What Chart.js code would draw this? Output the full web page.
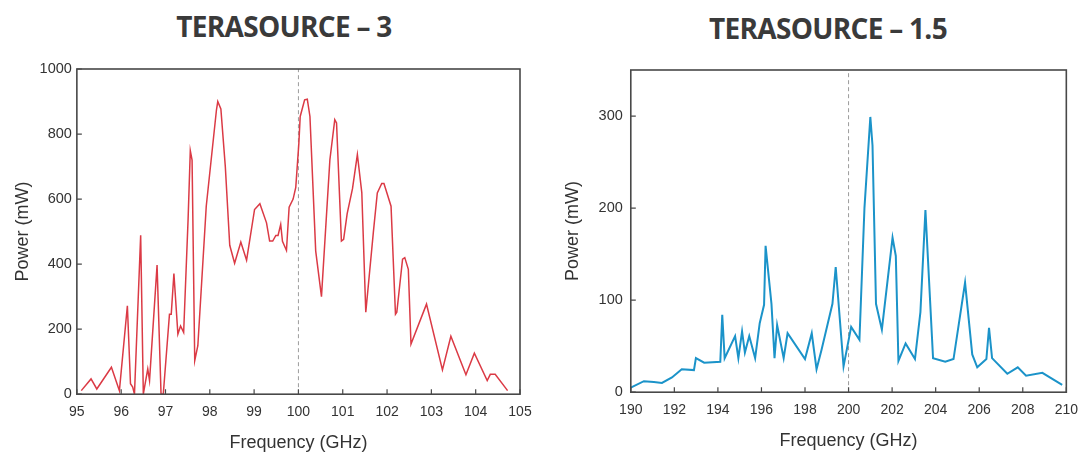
<!DOCTYPE html>
<html>
<head>
<meta charset="utf-8">
<script src="https://cdn.jsdelivr.net/npm/chart.js@4.4.0/dist/chart.umd.min.js"></script>
<style>
  body { margin: 0; width: 1088px; height: 452px; background: #fff; position: relative; overflow: hidden; }
  .title { position: absolute; width: 400px; text-align: center; font-family: "Open Sans", sans-serif; font-weight: 700; font-size: 28px; line-height: 32px; letter-spacing: -0.7px; color: #3a3a3a; }
  #titleLeft { left: 84px; top: 10px; }
  #titleRight { left: 628px; top: 12px; }
  canvas { position: absolute; top: 0; }
  #leftChart { left: 0; }
  #rightChart { left: 552px; }
</style>
</head>
<body>
<div class="title" id="titleLeft">TERASOURCE – 3</div>
<div class="title" id="titleRight">TERASOURCE – 1.5</div>
<canvas id="leftChart" width="568" height="452"></canvas>
<canvas id="rightChart" width="536" height="452"></canvas>
<script>
// TERASOURCE - 3 (GHz, mW)
const freqT3 = [95.1, 95.32, 95.45, 95.78, 95.96, 96.14, 96.21, 96.26, 96.3, 96.44,
  96.5, 96.6, 96.64, 96.81, 96.9, 96.95, 97.09, 97.13, 97.19, 97.28,
  97.34, 97.41, 97.51, 97.56, 97.6, 97.66, 97.73, 97.92, 98.15, 98.18,
  98.25, 98.35, 98.45, 98.56, 98.7, 98.83, 99.01, 99.13, 99.28, 99.35,
  99.42, 99.49, 99.54, 99.6, 99.64, 99.73, 99.79, 99.88, 99.94, 100.01,
  100.04, 100.14, 100.2, 100.26, 100.39, 100.52, 100.71, 100.82, 100.86, 100.97,
  101.02, 101.1, 101.22, 101.33, 101.43, 101.52, 101.69, 101.78, 101.88, 101.93,
  102.09, 102.19, 102.22, 102.35, 102.4, 102.48, 102.54, 102.89, 103.25, 103.44,
  103.78, 103.97, 104.26, 104.33, 104.44, 104.72];
const powerT3 = [11, 47, 16, 83, 11, 272, 32, 22, 0, 489,
  0, 78, 42, 397, 0, 0, 246, 246, 371, 185,
  210, 190, 537, 749, 720, 103, 149, 578, 874, 900,
  877, 700, 458, 403, 468, 412, 568, 586, 527, 471,
  471, 488, 488, 522, 470, 442, 575, 600, 636, 772,
  854, 905, 907, 854, 440, 300, 721, 844, 834, 471,
  476, 555, 632, 737, 620, 252, 497, 619, 648, 648,
  578, 246, 252, 415, 420, 384, 154, 277, 75, 178,
  60, 126, 42, 61, 61, 11];

// TERASOURCE - 1.5
const freqT15 = [190.0, 190.6, 191.06, 191.43, 191.89, 192.34, 192.9, 192.99, 193.37, 194.11,
  194.2, 194.31, 194.79, 194.94, 195.11, 195.24, 195.44, 195.71, 195.92, 196.12,
  196.19, 196.46, 196.6, 196.72, 197.02, 197.2, 198.0, 198.31, 198.53, 198.76,
  199.26, 199.41, 199.77, 200.12, 200.5, 200.73, 201.0, 201.1, 201.26, 201.53,
  202.02, 202.17, 202.29, 202.62, 203.05, 203.3, 203.53, 203.88, 204.44, 204.82,
  205.35, 205.68, 205.91, 206.33, 206.45, 206.59, 207.29, 207.77, 208.15, 208.9,
  209.81];
const powerT15 = [5, 12, 11, 10, 16, 25, 24, 37, 32, 33,
  84, 37, 61, 37, 66, 43, 61, 37, 75, 95,
  159, 96, 37, 73, 37, 64, 36, 64, 25, 46,
  96, 136, 28, 71, 57, 200, 299, 268, 96, 68,
  168, 148, 34, 53, 36, 87, 198, 37, 33, 36,
  119, 41, 27, 36, 70, 37, 20, 27, 18, 21,
  8];

const xTicksT3 = [95, 96, 97, 98, 99, 100, 101, 102, 103, 104, 105];
const yTicksT3 = [0, 200, 400, 600, 800, 1000];
const xTicksT15 = [190, 192, 194, 196, 198, 200, 202, 204, 206, 208, 210];
const yTicksT15 = [0, 100, 200, 300];
const centreT3 = 100;
const centreT15 = 200;

const FONT = '"Liberation Sans", Arial, sans-serif';
const toPoints = (xs, ys) => xs.map((x, i) => ({ x: x, y: ys[i] }));

// frame on all four sides + short inward tick marks
const frameTicks = {
    id: 'frameTicks',
    afterDatasetsDraw(chart) {
        const { ctx, chartArea: a, scales: { x, y } } = chart;
        ctx.save();
        ctx.strokeStyle = '#484848';
        ctx.lineWidth = 1.2;
        ctx.beginPath();
        x.ticks.forEach(t => {
            const px = x.getPixelForValue(t.value);
            ctx.moveTo(px, a.bottom);
            ctx.lineTo(px, a.bottom - 5);
        });
        y.ticks.forEach(t => {
            const py = y.getPixelForValue(t.value);
            ctx.moveTo(a.left, py);
            ctx.lineTo(a.left + 5, py);
        });
        ctx.stroke();
        ctx.lineWidth = 1.6;
        ctx.strokeRect(a.left, a.top, a.right - a.left, a.bottom - a.top);
        ctx.restore();
    }
};

const makeChart = (id, cfg) => {
    new Chart(document.getElementById(id), {
        type: 'line',
        data: {
            datasets: [{
                data: toPoints(cfg.xs, cfg.ys),
                borderColor: cfg.color,
                borderWidth: cfg.width,
                pointRadius: 0,
                tension: 0
            }, {
                data: [{ x: cfg.centre, y: cfg.yMin }, { x: cfg.centre, y: cfg.yMax }],
                borderColor: '#9c9c9c',
                borderWidth: 1,
                borderDash: [4, 3],
                pointRadius: 0
            }]
        },
        options: {
            responsive: false,
            animation: false,
            layout: { padding: cfg.padding },
            plugins: { legend: { display: false }, tooltip: { enabled: false } },
            scales: {
                x: {
                    type: 'linear',
                    min: cfg.xMin,
                    max: cfg.xMax,
                    afterBuildTicks: s => { s.ticks = cfg.xTicks.map(v => ({ value: v })); },
                    grid: { display: false, drawTicks: false },
                    border: { display: false },
                    ticks: {
                        color: '#333', font: { family: FONT, size: 14 }, padding: 10,
                        maxRotation: 0, autoSkip: false, callback: v => String(v)
                    },
                    title: {
                        display: true, text: 'Frequency (GHz)', color: '#333',
                        font: { family: FONT, size: 18, lineHeight: 1.0 },
                        padding: { top: 3, bottom: 0 }
                    }
                },
                y: {
                    min: cfg.yMin,
                    max: cfg.yMax,
                    afterBuildTicks: s => { s.ticks = cfg.yTicks.map(v => ({ value: v })); },
                    grid: { display: false, drawTicks: false },
                    border: { display: false },
                    ticks: { color: '#333', font: { family: FONT, size: 14.5 }, padding: cfg.yTickPad, callback: v => String(v) },
                    title: {
                        display: true, text: 'Power (mW)', color: '#333',
                        font: { family: FONT, size: 18, lineHeight: 1.2 },
                        padding: { top: 0, bottom: cfg.yTitleGap }
                    }
                }
            }
        },
        plugins: [frameTicks]
    });
};

makeChart('leftChart', {
    xs: freqT3, ys: powerT3, color: '#db3a45', width: 1.5, centre: centreT3,
    xMin: 95, xMax: 105, yMin: 0, yMax: 1000, xTicks: xTicksT3, yTicks: yTicksT3,
    padding: { left: 12, right: 48, top: 69, bottom: 0 }, yTickPad: 5, yTitleGap: 1
});

makeChart('rightChart', {
    xs: freqT15, ys: powerT15, color: '#1b93c9', width: 2, centre: centreT15,
    xMin: 190, xMax: 210, yMin: 0, yMax: 350, xTicks: xTicksT15, yTicks: yTicksT15,
    padding: { left: 10, right: 17, top: 70, bottom: 2 }, yTickPad: 8, yTitleGap: 7
});
</script>
</body>
</html>
